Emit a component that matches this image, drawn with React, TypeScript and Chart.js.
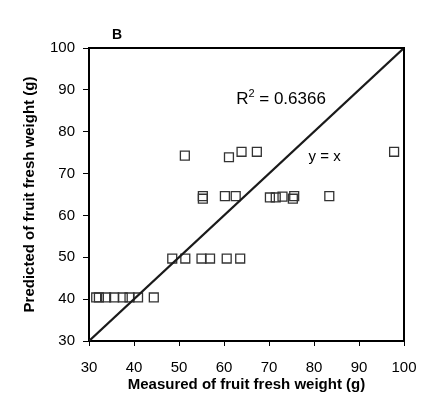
import React, { useEffect, useRef } from "react";
import { Chart, registerables } from "chart.js";

Chart.register(...registerables);

const measured = [
  31.6, 32.2, 33.8, 35.6, 37.5, 39.0, 40.9, 44.4,
  48.5, 51.4, 55.0, 56.9, 60.6, 63.6,
  55.3, 55.3, 60.2, 62.6, 70.2, 71.5, 73.0, 75.3, 75.6, 83.4,
  51.3, 61.1, 63.9, 67.3, 97.8,
];
const predicted = [
  40.4, 40.4, 40.4, 40.4, 40.4, 40.4, 40.4, 40.4,
  49.7, 49.7, 49.7, 49.7, 49.7, 49.7,
  64.6, 64.0, 64.6, 64.6, 64.3, 64.3, 64.5, 64.0, 64.6, 64.6,
  74.3, 73.9, 75.2, 75.2, 75.2,
];
const identityLine = [30, 100];
const axisMin = 30;
const axisMax = 100;
const tickStep = 10;
const xTitle = "Measured of fruit fresh weight (g)";
const yTitle = "Predicted of fruit fresh weight (g)";
const panelLabel = "B";
const r2Label = { x: 62.7, y: 86.6, text: "0.6366" };
const lineLabel = { x: 78.8, y: 72.9, text: "y = x" };

const FONT = "'Liberation Sans', Arial, Helvetica, sans-serif";

const annotationPlugin = {
  id: "annotations",
  afterDraw(chart: any) {
    const { ctx, chartArea, scales } = chart;
    const xs = scales.x;
    const ys = scales.y;
    ctx.save();
    ctx.strokeStyle = "#000";
    ctx.lineWidth = 2;
    ctx.beginPath();
    ctx.moveTo(chartArea.left, chartArea.top);
    ctx.lineTo(chartArea.right, chartArea.top);
    ctx.lineTo(chartArea.right, chartArea.bottom);
    ctx.stroke();

    ctx.fillStyle = "#000";
    ctx.textBaseline = "alphabetic";
    ctx.textAlign = "left";
    ctx.font = `bold 14px ${FONT}`;
    ctx.fillText(panelLabel, chartArea.left + 23, chartArea.top - 9.5);

    let px = xs.getPixelForValue(r2Label.x);
    const py = ys.getPixelForValue(r2Label.y);
    ctx.font = `17px ${FONT}`;
    ctx.fillText("R", px, py);
    px += ctx.measureText("R").width;
    ctx.font = `11px ${FONT}`;
    ctx.fillText("2", px, py - 7);
    px += ctx.measureText("2").width;
    ctx.font = `17px ${FONT}`;
    ctx.fillText(" = " + r2Label.text, px, py);

    ctx.font = `15px ${FONT}`;
    ctx.fillText(lineLabel.text, xs.getPixelForValue(lineLabel.x), ys.getPixelForValue(lineLabel.y));
    ctx.restore();
  },
};

export default function App() {
  const ref = useRef<HTMLCanvasElement | null>(null);
  useEffect(() => {
    if (!ref.current) return;
    const points = measured.map((m, i) => ({ x: m, y: predicted[i] }));
    const chart = new Chart(ref.current, {
      type: "scatter",
      data: {
        datasets: [
          {
            label: "y = x",
            data: identityLine.map((v) => ({ x: v, y: v })),
            showLine: true,
            borderColor: "#1a1a1a",
            borderWidth: 2.2,
            pointRadius: 0,
          },
          {
            label: "data",
            data: points,
            pointStyle: "rect",
            pointRadius: 6.3,
            borderColor: "#333",
            borderWidth: 1.3,
            backgroundColor: "rgba(0,0,0,0)",
          },
        ],
      },
      options: {
        animation: false,
        responsive: true,
        maintainAspectRatio: false,
        layout: { padding: { left: 0, right: 36, top: 48, bottom: 0 } },
        plugins: { legend: { display: false }, tooltip: { enabled: false } },
        scales: {
          x: {
            type: "linear",
            min: axisMin,
            max: axisMax,
            afterFit: (s: any) => {
              s.height = 68;
            },
            ticks: { stepSize: tickStep, color: "#000", font: { family: FONT, size: 15 }, padding: 13 },
            grid: { drawOnChartArea: false, drawTicks: true, tickLength: 5, color: "#000", lineWidth: 1 },
            border: { display: true, color: "#000", width: 2 },
            title: {
              display: true,
              text: xTitle,
              color: "#000",
              font: { family: FONT, size: 15, weight: "bold" },
              padding: { top: 0, bottom: 15 },
            },
          },
          y: {
            type: "linear",
            min: axisMin,
            max: axisMax,
            afterFit: (s: any) => {
              s.width = 89;
            },
            ticks: { stepSize: tickStep, color: "#000", font: { family: FONT, size: 15 }, padding: 8 },
            grid: { drawOnChartArea: false, drawTicks: true, tickLength: 6, color: "#000", lineWidth: 1 },
            border: { display: true, color: "#000", width: 2 },
            title: {
              display: true,
              text: yTitle,
              color: "#000",
              font: { family: FONT, size: 15, weight: "bold" },
              padding: { top: 21, bottom: 0 },
            },
          },
        },
      },
      plugins: [annotationPlugin],
    });
    return () => chart.destroy();
  }, []);
  return (
    <div style={{ position: "fixed", left: 0, top: 0, width: 440, height: 409, background: "#fff" }}>
      <canvas ref={ref} />
    </div>
  );
}
